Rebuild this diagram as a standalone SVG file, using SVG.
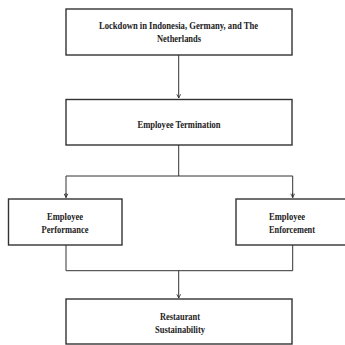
<svg xmlns="http://www.w3.org/2000/svg" width="345" height="345" viewBox="0 0 345 345">
<defs>
<style>
.box{fill:#fff;stroke:#333;stroke-width:1.4}
.lbl{font-family:"Liberation Serif","Times New Roman",serif;font-weight:bold;font-size:10px;fill:#222;text-anchor:middle}
.con{fill:none;stroke:#333;stroke-width:1}
</style>
<marker id="arr" viewBox="0 0 8 8" refX="7" refY="4" markerWidth="5" markerHeight="5" orient="auto" markerUnits="userSpaceOnUse">
<path d="M1,1 L7,4 L1,7" fill="none" stroke="#333" stroke-width="1.4"/>
</marker>
</defs>
<rect width="345" height="345" fill="#fff"/>
<g id="connectors">
<line class="con" x1="178.7" y1="55" x2="178.7" y2="98" marker-end="url(#arr)"/>
<polyline class="con" points="178.7,145 178.7,176"/>
<polyline class="con" points="66,197.5 66,176 292.7,176 292.7,197.5"/>
<line class="con" x1="66" y1="193" x2="66" y2="197.5" marker-end="url(#arr)"/>
<line class="con" x1="292.7" y1="193" x2="292.7" y2="197.5" marker-end="url(#arr)"/>
<polyline class="con" points="66,245 66,270.7 292.7,270.7 292.7,245"/>
<line class="con" x1="178.7" y1="270.7" x2="178.7" y2="298" marker-end="url(#arr)"/>
</g>
<g id="lockdown">
<rect class="box" x="66" y="9" width="226" height="46"/>
<text class="lbl" x="178.5" y="28.5" textLength="159" lengthAdjust="spacingAndGlyphs">Lockdown in Indonesia, Germany, and The</text>
<text class="lbl" x="179" y="41.5" textLength="44" lengthAdjust="spacingAndGlyphs">Netherlands</text>
</g>
<g id="termination">
<rect class="box" x="66" y="99.5" width="226" height="45.5"/>
<text class="lbl" x="179" y="127.5" textLength="83" lengthAdjust="spacingAndGlyphs">Employee Termination</text>
</g>
<g id="performance">
<rect class="box" x="8.5" y="199" width="113.5" height="46"/>
<text class="lbl" x="65" y="219.5" textLength="36" lengthAdjust="spacingAndGlyphs">Employee</text>
<text class="lbl" x="65" y="232.5" textLength="47" lengthAdjust="spacingAndGlyphs">Performance</text>
</g>
<g id="enforcement">
<rect class="box" x="236" y="199" width="113" height="46"/>
<text class="lbl" x="287" y="219.5" textLength="36" lengthAdjust="spacingAndGlyphs">Employee</text>
<text class="lbl" x="292" y="232.5" textLength="46" lengthAdjust="spacingAndGlyphs">Enforcement</text>
</g>
<g id="sustainability">
<rect class="box" x="66" y="299" width="226" height="45"/>
<text class="lbl" x="180" y="319.5" textLength="40" lengthAdjust="spacingAndGlyphs">Restaurant</text>
<text class="lbl" x="180" y="332.5" textLength="50" lengthAdjust="spacingAndGlyphs">Sustainability</text>
</g>
</svg>
